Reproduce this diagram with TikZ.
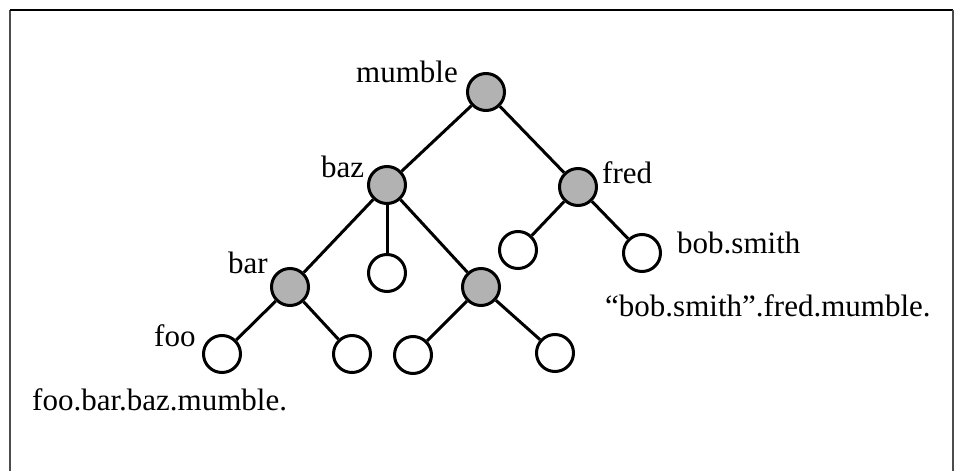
\documentclass[tikz,border=0pt]{standalone}
\usepackage{fontspec}
\setmainfont{Liberation Serif}
\begin{document}
\begin{tikzpicture}[x=1pt,y=-1pt,
  inner/.style={circle,draw=black,fill=black!30,line width=3pt,minimum size=37pt,inner sep=0pt},
  leaf/.style={circle,draw=black,fill=white,line width=3pt,minimum size=37pt,inner sep=0pt},
  edge/.style={draw=black,line width=3pt},
  lbl/.style={inner sep=0pt,anchor=base west,font=\fontsize{31}{37}\selectfont},
  frame/.style={line width=2pt}]
\useasboundingbox (0,0) rectangle (954,471);
% open frame (no bottom side)
\draw[frame,black!70] (10,471) -- (10,10);
\draw[frame,black] (10,10) -- (953,10);
\draw[frame,black!70] (953,10) -- (953,471);

% tree nodes
\node[inner] (mumble) at (486,92) {};
\node[inner] (baz) at (387,185) {};
\node[inner] (fred) at (578,187) {};
\node[inner] (bar) at (290,287) {};
\node[leaf] (bazmid) at (387,273) {};
\node[inner] (bazr) at (481,287) {};
\node[leaf] (foo) at (222,354) {};
\node[leaf] (barr) at (352,354) {};
\node[leaf] (bazrl) at (413,355) {};
\node[leaf] (bazrr) at (555,353) {};
\node[leaf] (fredl) at (518,250) {};
\node[leaf] (bob) at (642,253) {};

% connectors
\draw[edge] (mumble) -- (baz);
\draw[edge] (mumble) -- (fred);
\draw[edge] (baz) -- (bar);
\draw[edge] (baz) -- (bazmid);
\draw[edge] (baz) -- (bazr);
\draw[edge] (bar) -- (foo);
\draw[edge] (bar) -- (barr);
\draw[edge] (bazr) -- (bazrl);
\draw[edge] (bazr) -- (bazrr);
\draw[edge] (fred) -- (fredl);
\draw[edge] (fred) -- (bob);

% labels
\node[lbl] (tmumble) at (356,82) {mumble};
\node[lbl] (tbaz) at (321,177) {baz};
\node[lbl] (tfred) at (602,183) {fred};
\node[lbl] (tbar) at (228,273) {bar};
\node[lbl] (tfoo) at (154,346) {foo};
\node[lbl] (tbob) at (677,253) {bob.smith};
\node[lbl] (tbobname) at (605,316) {“bob.smith”.fred.mumble.};
\node[lbl] (tfooname) at (32,410) {foo.bar.baz.mumble.};
\end{tikzpicture}
\end{document}
